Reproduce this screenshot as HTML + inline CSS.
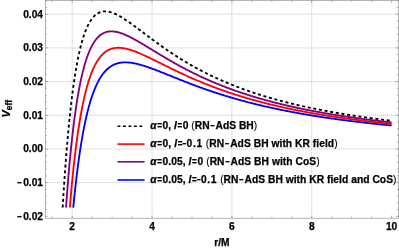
<!DOCTYPE html><html><head><meta charset="utf-8"><style>html,body{margin:0;padding:0;background:#fff}</style></head><body><svg width="399" height="249" viewBox="0 0 399 249" style="display:block">
<rect width="399" height="249" fill="#fff"/>
<g stroke="#9c9c9c" stroke-width="0.75" stroke-dasharray="0.85,1.15" fill="none"><line x1="72.20" y1="0.3" x2="72.20" y2="218.2"/><line x1="152.05" y1="0.3" x2="152.05" y2="218.2"/><line x1="231.90" y1="0.3" x2="231.90" y2="218.2"/><line x1="311.75" y1="0.3" x2="311.75" y2="218.2"/><line x1="45.3" y1="182.62" x2="398.45" y2="182.62"/><line x1="45.3" y1="148.93" x2="398.45" y2="148.93"/><line x1="45.3" y1="115.25" x2="398.45" y2="115.25"/><line x1="45.3" y1="81.57" x2="398.45" y2="81.57"/><line x1="45.3" y1="47.88" x2="398.45" y2="47.88"/><line x1="45.3" y1="14.20" x2="398.45" y2="14.20"/></g>
<path d="M62.67,207.54 L63.00,201.97 L63.57,192.94 L64.14,184.30 L64.70,176.03 L65.27,168.12 L65.83,160.56 L66.40,153.33 L66.97,146.41 L67.53,139.79 L68.10,133.46 L68.67,127.41 L69.23,121.62 L69.80,116.08 L70.37,110.78 L70.93,105.72 L71.50,100.87 L72.07,96.24 L72.63,91.81 L73.20,87.58 L73.77,83.53 L74.33,79.66 L74.90,75.97 L75.47,72.44 L76.03,69.07 L76.60,65.84 L77.17,62.77 L77.73,59.83 L78.30,57.03 L78.87,54.36 L79.43,51.80 L80.00,49.37 L80.56,47.05 L81.13,44.85 L81.70,42.74 L82.26,40.74 L82.83,38.83 L83.40,37.02 L83.96,35.29 L84.53,33.65 L85.10,32.10 L85.66,30.62 L86.23,29.22 L86.80,27.90 L87.36,26.64 L87.93,25.45 L88.50,24.33 L89.06,23.26 L89.63,22.26 L90.20,21.32 L90.76,20.43 L91.33,19.60 L91.90,18.82 L92.46,18.08 L93.03,17.40 L93.60,16.76 L94.16,16.16 L94.73,15.61 L95.30,15.10 L95.86,14.63 L96.43,14.19 L96.99,13.79 L97.56,13.43 L98.13,13.10 L98.69,12.80 L99.26,12.53 L99.83,12.30 L100.39,12.09 L100.96,11.91 L101.53,11.75 L102.09,11.62 L102.66,11.52 L103.23,11.44 L103.79,11.38 L104.36,11.35 L104.93,11.33 L105.49,11.34 L106.06,11.36 L106.63,11.41 L107.19,11.47 L107.76,11.55 L108.33,11.64 L108.89,11.75 L109.46,11.88 L110.03,12.02 L110.59,12.18 L111.16,12.34 L111.73,12.53 L112.29,12.72 L112.86,12.93 L113.42,13.14 L113.99,13.37 L114.56,13.61 L115.12,13.86 L115.69,14.12 L116.26,14.39 L116.82,14.66 L117.39,14.95 L117.96,15.24 L118.52,15.55 L119.09,15.85 L119.66,16.17 L120.22,16.49 L120.79,16.82 L121.36,17.16 L121.92,17.50 L122.49,17.85 L123.06,18.20 L123.62,18.56 L124.19,18.92 L124.76,19.29 L125.32,19.66 L125.89,20.03 L126.46,20.41 L127.02,20.79 L127.59,21.18 L128.15,21.57 L128.72,21.96 L129.29,22.36 L129.85,22.76 L130.42,23.16 L130.99,23.57 L131.55,23.97 L132.12,24.38 L132.69,24.79 L133.25,25.20 L133.82,25.62 L134.39,26.03 L134.95,26.45 L135.52,26.87 L136.09,27.29 L136.65,27.71 L137.22,28.13 L137.79,28.56 L138.35,28.98 L138.92,29.40 L139.49,29.83 L140.05,30.26 L140.62,30.68 L141.19,31.11 L141.75,31.53 L142.32,31.96 L142.89,32.39 L143.45,32.82 L144.02,33.24 L144.58,33.67 L145.15,34.10 L145.72,34.52 L146.28,34.95 L146.85,35.38 L147.42,35.80 L147.98,36.23 L148.55,36.65 L149.12,37.08 L149.68,37.50 L150.25,37.92 L150.82,38.34 L151.38,38.77 L151.95,39.19 L152.52,39.61 L153.08,40.03 L153.65,40.44 L154.22,40.86 L154.78,41.28 L155.35,41.69 L155.92,42.11 L156.48,42.52 L157.05,42.93 L157.62,43.34 L158.18,43.75 L158.75,44.16 L159.32,44.57 L159.88,44.97 L160.45,45.38 L161.01,45.78 L161.58,46.19 L162.15,46.59 L162.71,46.99 L163.28,47.38 L163.85,47.78 L164.41,48.18 L164.98,48.57 L165.55,48.96 L166.11,49.36 L166.68,49.75 L167.25,50.14 L167.81,50.52 L168.38,50.91 L168.95,51.29 L169.51,51.68 L170.08,52.06 L170.65,52.44 L171.21,52.82 L171.78,53.19 L172.35,53.57 L172.91,53.94 L173.48,54.31 L174.05,54.69 L174.61,55.05 L175.18,55.42 L175.75,55.79 L176.31,56.15 L176.88,56.52 L177.44,56.88 L178.01,57.24 L178.58,57.60 L179.14,57.95 L179.71,58.31 L180.28,58.66 L180.84,59.02 L181.41,59.37 L181.98,59.72 L182.54,60.06 L183.11,60.41 L183.68,60.75 L184.24,61.10 L184.81,61.44 L185.38,61.78 L185.94,62.12 L186.51,62.45 L187.08,62.79 L187.64,63.12 L188.21,63.45 L188.78,63.79 L189.34,64.11 L189.91,64.44 L190.48,64.77 L191.04,65.09 L191.61,65.42 L192.17,65.74 L192.74,66.06 L193.31,66.37 L193.87,66.69 L194.44,67.01 L195.01,67.32 L195.57,67.63 L196.14,67.94 L196.71,68.25 L197.27,68.56 L197.84,68.87 L198.41,69.17 L198.97,69.48 L199.54,69.78 L200.11,70.08 L200.67,70.38 L201.24,70.68 L201.81,70.97 L202.37,71.27 L202.94,71.56 L203.51,71.85 L204.07,72.14 L204.64,72.43 L205.21,72.72 L205.77,73.01 L206.34,73.29 L206.91,73.57 L207.47,73.86 L208.04,74.14 L208.60,74.42 L209.17,74.69 L209.74,74.97 L210.30,75.25 L210.87,75.52 L211.44,75.79 L212.00,76.06 L212.57,76.33 L213.14,76.60 L213.70,76.87 L214.27,77.13 L214.84,77.40 L215.40,77.66 L215.97,77.92 L216.54,78.19 L217.10,78.44 L217.67,78.70 L218.24,78.96 L218.80,79.21 L219.37,79.47 L219.94,79.72 L220.50,79.97 L221.07,80.22 L221.64,80.47 L222.20,80.72 L222.77,80.97 L223.34,81.21 L223.90,81.46 L224.47,81.70 L225.03,81.94 L225.60,82.19 L226.17,82.42 L226.73,82.66 L227.30,82.90 L227.87,83.14 L228.43,83.37 L229.00,83.61 L229.57,83.84 L230.13,84.07 L230.70,84.30 L231.27,84.53 L231.83,84.76 L232.40,84.98 L232.97,85.21 L233.53,85.44 L234.10,85.66 L234.67,85.88 L235.23,86.10 L235.80,86.32 L236.37,86.54 L236.93,86.76 L237.50,86.98 L238.07,87.19 L238.63,87.41 L239.20,87.62 L239.77,87.84 L240.33,88.05 L240.90,88.26 L241.46,88.47 L242.03,88.68 L242.60,88.89 L243.16,89.09 L243.73,89.30 L244.30,89.50 L244.86,89.71 L245.43,89.91 L246.00,90.11 L246.56,90.31 L247.13,90.51 L247.70,90.71 L248.26,90.91 L248.83,91.11 L249.40,91.30 L249.96,91.50 L250.53,91.69 L251.10,91.89 L251.66,92.08 L252.23,92.27 L252.80,92.46 L253.36,92.65 L253.93,92.84 L254.50,93.03 L255.06,93.21 L255.63,93.40 L256.19,93.58 L256.76,93.77 L257.33,93.95 L257.89,94.13 L258.46,94.32 L259.03,94.50 L259.59,94.68 L260.16,94.85 L260.73,95.03 L261.29,95.21 L261.86,95.39 L262.43,95.56 L262.99,95.74 L263.56,95.91 L264.13,96.08 L264.69,96.26 L265.26,96.43 L265.83,96.60 L266.39,96.77 L266.96,96.94 L267.53,97.11 L268.09,97.27 L268.66,97.44 L269.23,97.61 L269.79,97.77 L270.36,97.94 L270.93,98.10 L271.49,98.26 L272.06,98.43 L272.62,98.59 L273.19,98.75 L273.76,98.91 L274.32,99.07 L274.89,99.23 L275.46,99.38 L276.02,99.54 L276.59,99.70 L277.16,99.85 L277.72,100.01 L278.29,100.16 L278.86,100.31 L279.42,100.47 L279.99,100.62 L280.56,100.77 L281.12,100.92 L281.69,101.07 L282.26,101.22 L282.82,101.37 L283.39,101.52 L283.96,101.66 L284.52,101.81 L285.09,101.96 L285.66,102.10 L286.22,102.25 L286.79,102.39 L287.36,102.53 L287.92,102.68 L288.49,102.82 L289.05,102.96 L289.62,103.10 L290.19,103.24 L290.75,103.38 L291.32,103.52 L291.89,103.66 L292.45,103.79 L293.02,103.93 L293.59,104.07 L294.15,104.20 L294.72,104.34 L295.29,104.47 L295.85,104.61 L296.42,104.74 L296.99,104.87 L297.55,105.00 L298.12,105.14 L298.69,105.27 L299.25,105.40 L299.82,105.53 L300.39,105.66 L300.95,105.78 L301.52,105.91 L302.09,106.04 L302.65,106.17 L303.22,106.29 L303.78,106.42 L304.35,106.54 L304.92,106.67 L305.48,106.79 L306.05,106.92 L306.62,107.04 L307.18,107.16 L307.75,107.29 L308.32,107.41 L308.88,107.53 L309.45,107.65 L310.02,107.77 L310.58,107.89 L311.15,108.01 L311.72,108.13 L312.28,108.24 L312.85,108.36 L313.42,108.48 L313.98,108.59 L314.55,108.71 L315.12,108.83 L315.68,108.94 L316.25,109.05 L316.82,109.17 L317.38,109.28 L317.95,109.40 L318.52,109.51 L319.08,109.62 L319.65,109.73 L320.21,109.84 L320.78,109.95 L321.35,110.06 L321.91,110.17 L322.48,110.28 L323.05,110.39 L323.61,110.50 L324.18,110.61 L324.75,110.71 L325.31,110.82 L325.88,110.93 L326.45,111.03 L327.01,111.14 L327.58,111.24 L328.15,111.35 L328.71,111.45 L329.28,111.56 L329.85,111.66 L330.41,111.76 L330.98,111.87 L331.55,111.97 L332.11,112.07 L332.68,112.17 L333.25,112.27 L333.81,112.37 L334.38,112.47 L334.95,112.57 L335.51,112.67 L336.08,112.77 L336.64,112.87 L337.21,112.97 L337.78,113.06 L338.34,113.16 L338.91,113.26 L339.48,113.35 L340.04,113.45 L340.61,113.55 L341.18,113.64 L341.74,113.74 L342.31,113.83 L342.88,113.93 L343.44,114.02 L344.01,114.11 L344.58,114.21 L345.14,114.30 L345.71,114.39 L346.28,114.48 L346.84,114.57 L347.41,114.66 L347.98,114.76 L348.54,114.85 L349.11,114.94 L349.68,115.03 L350.24,115.11 L350.81,115.20 L351.38,115.29 L351.94,115.38 L352.51,115.47 L353.07,115.56 L353.64,115.64 L354.21,115.73 L354.77,115.82 L355.34,115.90 L355.91,115.99 L356.47,116.07 L357.04,116.16 L357.61,116.24 L358.17,116.33 L358.74,116.41 L359.31,116.50 L359.87,116.58 L360.44,116.66 L361.01,116.75 L361.57,116.83 L362.14,116.91 L362.71,116.99 L363.27,117.07 L363.84,117.16 L364.41,117.24 L364.97,117.32 L365.54,117.40 L366.11,117.48 L366.67,117.56 L367.24,117.64 L367.80,117.72 L368.37,117.79 L368.94,117.87 L369.50,117.95 L370.07,118.03 L370.64,118.11 L371.20,118.18 L371.77,118.26 L372.34,118.34 L372.90,118.41 L373.47,118.49 L374.04,118.57 L374.60,118.64 L375.17,118.72 L375.74,118.79 L376.30,118.87 L376.87,118.94 L377.44,119.01 L378.00,119.09 L378.57,119.16 L379.14,119.23 L379.70,119.31 L380.27,119.38 L380.84,119.45 L381.40,119.53 L381.97,119.60 L382.54,119.67 L383.10,119.74 L383.67,119.81 L384.23,119.88 L384.80,119.95 L385.37,120.02 L385.93,120.09 L386.50,120.16 L387.07,120.23 L387.63,120.30 L388.20,120.37 L388.77,120.44 L389.33,120.51 L389.90,120.58 L390.47,120.64 L391.03,120.71 L391.60,120.78" fill="none" stroke="#000" stroke-width="1.85" stroke-dasharray="3.05,2.67" stroke-linejoin="round"/>
<path d="M66.03,207.54 L66.40,202.29 L66.97,194.63 L67.53,187.28 L68.10,180.25 L68.67,173.50 L69.23,167.03 L69.80,160.83 L70.37,154.89 L70.93,149.19 L71.50,143.72 L72.07,138.49 L72.63,133.46 L73.20,128.65 L73.77,124.03 L74.33,119.61 L74.90,115.36 L75.47,111.30 L76.03,107.40 L76.60,103.67 L77.17,100.09 L77.73,96.66 L78.30,93.37 L78.87,90.22 L79.43,87.21 L80.00,84.32 L80.56,81.55 L81.13,78.90 L81.70,76.37 L82.26,73.94 L82.83,71.62 L83.40,69.40 L83.96,67.28 L84.53,65.25 L85.10,63.31 L85.66,61.45 L86.23,59.68 L86.80,57.99 L87.36,56.38 L87.93,54.84 L88.50,53.37 L89.06,51.97 L89.63,50.63 L90.20,49.36 L90.76,48.15 L91.33,47.00 L91.90,45.91 L92.46,44.87 L93.03,43.88 L93.60,42.95 L94.16,42.06 L94.73,41.22 L95.30,40.43 L95.86,39.68 L96.43,38.97 L96.99,38.31 L97.56,37.68 L98.13,37.09 L98.69,36.54 L99.26,36.02 L99.83,35.54 L100.39,35.08 L100.96,34.66 L101.53,34.27 L102.09,33.91 L102.66,33.58 L103.23,33.28 L103.79,33.00 L104.36,32.74 L104.93,32.51 L105.49,32.31 L106.06,32.12 L106.63,31.96 L107.19,31.82 L107.76,31.70 L108.33,31.60 L108.89,31.52 L109.46,31.45 L110.03,31.41 L110.59,31.38 L111.16,31.36 L111.73,31.36 L112.29,31.38 L112.86,31.41 L113.42,31.46 L113.99,31.52 L114.56,31.59 L115.12,31.67 L115.69,31.77 L116.26,31.87 L116.82,31.99 L117.39,32.12 L117.96,32.26 L118.52,32.41 L119.09,32.57 L119.66,32.73 L120.22,32.91 L120.79,33.10 L121.36,33.29 L121.92,33.49 L122.49,33.70 L123.06,33.91 L123.62,34.13 L124.19,34.36 L124.76,34.60 L125.32,34.84 L125.89,35.09 L126.46,35.34 L127.02,35.60 L127.59,35.86 L128.15,36.13 L128.72,36.40 L129.29,36.68 L129.85,36.96 L130.42,37.24 L130.99,37.53 L131.55,37.83 L132.12,38.12 L132.69,38.42 L133.25,38.73 L133.82,39.03 L134.39,39.34 L134.95,39.65 L135.52,39.97 L136.09,40.28 L136.65,40.60 L137.22,40.92 L137.79,41.25 L138.35,41.57 L138.92,41.90 L139.49,42.23 L140.05,42.56 L140.62,42.89 L141.19,43.23 L141.75,43.56 L142.32,43.90 L142.89,44.24 L143.45,44.57 L144.02,44.91 L144.58,45.25 L145.15,45.60 L145.72,45.94 L146.28,46.28 L146.85,46.62 L147.42,46.97 L147.98,47.31 L148.55,47.65 L149.12,48.00 L149.68,48.34 L150.25,48.69 L150.82,49.04 L151.38,49.38 L151.95,49.73 L152.52,50.07 L153.08,50.42 L153.65,50.76 L154.22,51.11 L154.78,51.45 L155.35,51.80 L155.92,52.14 L156.48,52.48 L157.05,52.83 L157.62,53.17 L158.18,53.51 L158.75,53.86 L159.32,54.20 L159.88,54.54 L160.45,54.88 L161.01,55.22 L161.58,55.56 L162.15,55.90 L162.71,56.24 L163.28,56.57 L163.85,56.91 L164.41,57.24 L164.98,57.58 L165.55,57.91 L166.11,58.25 L166.68,58.58 L167.25,58.91 L167.81,59.24 L168.38,59.57 L168.95,59.90 L169.51,60.23 L170.08,60.56 L170.65,60.88 L171.21,61.21 L171.78,61.53 L172.35,61.85 L172.91,62.18 L173.48,62.50 L174.05,62.82 L174.61,63.14 L175.18,63.45 L175.75,63.77 L176.31,64.09 L176.88,64.40 L177.44,64.71 L178.01,65.03 L178.58,65.34 L179.14,65.65 L179.71,65.96 L180.28,66.26 L180.84,66.57 L181.41,66.88 L181.98,67.18 L182.54,67.48 L183.11,67.79 L183.68,68.09 L184.24,68.39 L184.81,68.69 L185.38,68.98 L185.94,69.28 L186.51,69.57 L187.08,69.87 L187.64,70.16 L188.21,70.45 L188.78,70.74 L189.34,71.03 L189.91,71.32 L190.48,71.61 L191.04,71.89 L191.61,72.18 L192.17,72.46 L192.74,72.74 L193.31,73.02 L193.87,73.30 L194.44,73.58 L195.01,73.86 L195.57,74.13 L196.14,74.41 L196.71,74.68 L197.27,74.95 L197.84,75.23 L198.41,75.50 L198.97,75.76 L199.54,76.03 L200.11,76.30 L200.67,76.56 L201.24,76.83 L201.81,77.09 L202.37,77.35 L202.94,77.61 L203.51,77.87 L204.07,78.13 L204.64,78.39 L205.21,78.64 L205.77,78.90 L206.34,79.15 L206.91,79.41 L207.47,79.66 L208.04,79.91 L208.60,80.16 L209.17,80.40 L209.74,80.65 L210.30,80.90 L210.87,81.14 L211.44,81.38 L212.00,81.63 L212.57,81.87 L213.14,82.11 L213.70,82.35 L214.27,82.59 L214.84,82.82 L215.40,83.06 L215.97,83.29 L216.54,83.53 L217.10,83.76 L217.67,83.99 L218.24,84.22 L218.80,84.45 L219.37,84.68 L219.94,84.91 L220.50,85.13 L221.07,85.36 L221.64,85.58 L222.20,85.80 L222.77,86.03 L223.34,86.25 L223.90,86.47 L224.47,86.68 L225.03,86.90 L225.60,87.12 L226.17,87.34 L226.73,87.55 L227.30,87.76 L227.87,87.98 L228.43,88.19 L229.00,88.40 L229.57,88.61 L230.13,88.82 L230.70,89.03 L231.27,89.23 L231.83,89.44 L232.40,89.64 L232.97,89.85 L233.53,90.05 L234.10,90.25 L234.67,90.45 L235.23,90.65 L235.80,90.85 L236.37,91.05 L236.93,91.25 L237.50,91.45 L238.07,91.64 L238.63,91.84 L239.20,92.03 L239.77,92.22 L240.33,92.41 L240.90,92.60 L241.46,92.79 L242.03,92.98 L242.60,93.17 L243.16,93.36 L243.73,93.55 L244.30,93.73 L244.86,93.92 L245.43,94.10 L246.00,94.28 L246.56,94.47 L247.13,94.65 L247.70,94.83 L248.26,95.01 L248.83,95.19 L249.40,95.37 L249.96,95.54 L250.53,95.72 L251.10,95.90 L251.66,96.07 L252.23,96.24 L252.80,96.42 L253.36,96.59 L253.93,96.76 L254.50,96.93 L255.06,97.10 L255.63,97.27 L256.19,97.44 L256.76,97.61 L257.33,97.77 L257.89,97.94 L258.46,98.11 L259.03,98.27 L259.59,98.43 L260.16,98.60 L260.73,98.76 L261.29,98.92 L261.86,99.08 L262.43,99.24 L262.99,99.40 L263.56,99.56 L264.13,99.72 L264.69,99.88 L265.26,100.03 L265.83,100.19 L266.39,100.34 L266.96,100.50 L267.53,100.65 L268.09,100.80 L268.66,100.96 L269.23,101.11 L269.79,101.26 L270.36,101.41 L270.93,101.56 L271.49,101.71 L272.06,101.86 L272.62,102.00 L273.19,102.15 L273.76,102.30 L274.32,102.44 L274.89,102.59 L275.46,102.73 L276.02,102.88 L276.59,103.02 L277.16,103.16 L277.72,103.30 L278.29,103.44 L278.86,103.58 L279.42,103.72 L279.99,103.86 L280.56,104.00 L281.12,104.14 L281.69,104.28 L282.26,104.41 L282.82,104.55 L283.39,104.69 L283.96,104.82 L284.52,104.95 L285.09,105.09 L285.66,105.22 L286.22,105.35 L286.79,105.49 L287.36,105.62 L287.92,105.75 L288.49,105.88 L289.05,106.01 L289.62,106.14 L290.19,106.27 L290.75,106.39 L291.32,106.52 L291.89,106.65 L292.45,106.77 L293.02,106.90 L293.59,107.02 L294.15,107.15 L294.72,107.27 L295.29,107.40 L295.85,107.52 L296.42,107.64 L296.99,107.76 L297.55,107.89 L298.12,108.01 L298.69,108.13 L299.25,108.25 L299.82,108.37 L300.39,108.49 L300.95,108.60 L301.52,108.72 L302.09,108.84 L302.65,108.96 L303.22,109.07 L303.78,109.19 L304.35,109.30 L304.92,109.42 L305.48,109.53 L306.05,109.65 L306.62,109.76 L307.18,109.87 L307.75,109.98 L308.32,110.10 L308.88,110.21 L309.45,110.32 L310.02,110.43 L310.58,110.54 L311.15,110.65 L311.72,110.76 L312.28,110.87 L312.85,110.97 L313.42,111.08 L313.98,111.19 L314.55,111.30 L315.12,111.40 L315.68,111.51 L316.25,111.61 L316.82,111.72 L317.38,111.82 L317.95,111.93 L318.52,112.03 L319.08,112.13 L319.65,112.24 L320.21,112.34 L320.78,112.44 L321.35,112.54 L321.91,112.64 L322.48,112.75 L323.05,112.85 L323.61,112.95 L324.18,113.04 L324.75,113.14 L325.31,113.24 L325.88,113.34 L326.45,113.44 L327.01,113.54 L327.58,113.63 L328.15,113.73 L328.71,113.83 L329.28,113.92 L329.85,114.02 L330.41,114.11 L330.98,114.21 L331.55,114.30 L332.11,114.40 L332.68,114.49 L333.25,114.58 L333.81,114.68 L334.38,114.77 L334.95,114.86 L335.51,114.95 L336.08,115.04 L336.64,115.13 L337.21,115.22 L337.78,115.31 L338.34,115.40 L338.91,115.49 L339.48,115.58 L340.04,115.67 L340.61,115.76 L341.18,115.85 L341.74,115.94 L342.31,116.02 L342.88,116.11 L343.44,116.20 L344.01,116.28 L344.58,116.37 L345.14,116.45 L345.71,116.54 L346.28,116.62 L346.84,116.71 L347.41,116.79 L347.98,116.88 L348.54,116.96 L349.11,117.04 L349.68,117.13 L350.24,117.21 L350.81,117.29 L351.38,117.37 L351.94,117.46 L352.51,117.54 L353.07,117.62 L353.64,117.70 L354.21,117.78 L354.77,117.86 L355.34,117.94 L355.91,118.02 L356.47,118.10 L357.04,118.18 L357.61,118.26 L358.17,118.33 L358.74,118.41 L359.31,118.49 L359.87,118.57 L360.44,118.64 L361.01,118.72 L361.57,118.80 L362.14,118.87 L362.71,118.95 L363.27,119.03 L363.84,119.10 L364.41,119.18 L364.97,119.25 L365.54,119.32 L366.11,119.40 L366.67,119.47 L367.24,119.55 L367.80,119.62 L368.37,119.69 L368.94,119.77 L369.50,119.84 L370.07,119.91 L370.64,119.98 L371.20,120.05 L371.77,120.13 L372.34,120.20 L372.90,120.27 L373.47,120.34 L374.04,120.41 L374.60,120.48 L375.17,120.55 L375.74,120.62 L376.30,120.69 L376.87,120.76 L377.44,120.82 L378.00,120.89 L378.57,120.96 L379.14,121.03 L379.70,121.10 L380.27,121.16 L380.84,121.23 L381.40,121.30 L381.97,121.37 L382.54,121.43 L383.10,121.50 L383.67,121.56 L384.23,121.63 L384.80,121.70 L385.37,121.76 L385.93,121.83 L386.50,121.89 L387.07,121.96 L387.63,122.02 L388.20,122.08 L388.77,122.15 L389.33,122.21 L389.90,122.27 L390.47,122.34 L391.03,122.40 L391.60,122.46" fill="none" stroke="#800080" stroke-width="1.85" stroke-linejoin="round"/>
<path d="M73.28,207.54 L73.77,202.54 L74.33,196.92 L74.90,191.51 L75.47,186.30 L76.03,181.29 L76.60,176.47 L77.17,171.82 L77.73,167.35 L78.30,163.05 L78.87,158.90 L79.43,154.91 L80.00,151.07 L80.56,147.37 L81.13,143.81 L81.70,140.38 L82.26,137.08 L82.83,133.90 L83.40,130.84 L83.96,127.90 L84.53,125.06 L85.10,122.33 L85.66,119.71 L86.23,117.18 L86.80,114.74 L87.36,112.40 L87.93,110.14 L88.50,107.98 L89.06,105.89 L89.63,103.88 L90.20,101.95 L90.76,100.09 L91.33,98.30 L91.90,96.59 L92.46,94.93 L93.03,93.35 L93.60,91.82 L94.16,90.36 L94.73,88.95 L95.30,87.59 L95.86,86.30 L96.43,85.05 L96.99,83.85 L97.56,82.70 L98.13,81.60 L98.69,80.55 L99.26,79.53 L99.83,78.56 L100.39,77.63 L100.96,76.74 L101.53,75.89 L102.09,75.08 L102.66,74.30 L103.23,73.55 L103.79,72.84 L104.36,72.16 L104.93,71.52 L105.49,70.90 L106.06,70.31 L106.63,69.75 L107.19,69.22 L107.76,68.71 L108.33,68.23 L108.89,67.77 L109.46,67.34 L110.03,66.93 L110.59,66.54 L111.16,66.18 L111.73,65.83 L112.29,65.51 L112.86,65.20 L113.42,64.92 L113.99,64.65 L114.56,64.40 L115.12,64.17 L115.69,63.95 L116.26,63.75 L116.82,63.57 L117.39,63.40 L117.96,63.24 L118.52,63.10 L119.09,62.98 L119.66,62.86 L120.22,62.76 L120.79,62.67 L121.36,62.59 L121.92,62.53 L122.49,62.47 L123.06,62.43 L123.62,62.40 L124.19,62.37 L124.76,62.36 L125.32,62.35 L125.89,62.36 L126.46,62.37 L127.02,62.39 L127.59,62.43 L128.15,62.46 L128.72,62.51 L129.29,62.56 L129.85,62.62 L130.42,62.69 L130.99,62.77 L131.55,62.85 L132.12,62.93 L132.69,63.03 L133.25,63.12 L133.82,63.23 L134.39,63.34 L134.95,63.45 L135.52,63.57 L136.09,63.70 L136.65,63.83 L137.22,63.96 L137.79,64.10 L138.35,64.25 L138.92,64.39 L139.49,64.54 L140.05,64.70 L140.62,64.86 L141.19,65.02 L141.75,65.18 L142.32,65.35 L142.89,65.52 L143.45,65.70 L144.02,65.88 L144.58,66.06 L145.15,66.24 L145.72,66.42 L146.28,66.61 L146.85,66.80 L147.42,66.99 L147.98,67.19 L148.55,67.39 L149.12,67.58 L149.68,67.78 L150.25,67.99 L150.82,68.19 L151.38,68.40 L151.95,68.60 L152.52,68.81 L153.08,69.02 L153.65,69.23 L154.22,69.45 L154.78,69.66 L155.35,69.88 L155.92,70.09 L156.48,70.31 L157.05,70.53 L157.62,70.75 L158.18,70.97 L158.75,71.19 L159.32,71.41 L159.88,71.63 L160.45,71.86 L161.01,72.08 L161.58,72.30 L162.15,72.53 L162.71,72.75 L163.28,72.98 L163.85,73.21 L164.41,73.43 L164.98,73.66 L165.55,73.89 L166.11,74.11 L166.68,74.34 L167.25,74.57 L167.81,74.80 L168.38,75.03 L168.95,75.25 L169.51,75.48 L170.08,75.71 L170.65,75.94 L171.21,76.17 L171.78,76.39 L172.35,76.62 L172.91,76.85 L173.48,77.08 L174.05,77.31 L174.61,77.53 L175.18,77.76 L175.75,77.99 L176.31,78.21 L176.88,78.44 L177.44,78.67 L178.01,78.89 L178.58,79.12 L179.14,79.34 L179.71,79.57 L180.28,79.79 L180.84,80.02 L181.41,80.24 L181.98,80.47 L182.54,80.69 L183.11,80.91 L183.68,81.13 L184.24,81.36 L184.81,81.58 L185.38,81.80 L185.94,82.02 L186.51,82.24 L187.08,82.46 L187.64,82.68 L188.21,82.89 L188.78,83.11 L189.34,83.33 L189.91,83.55 L190.48,83.76 L191.04,83.98 L191.61,84.19 L192.17,84.41 L192.74,84.62 L193.31,84.83 L193.87,85.05 L194.44,85.26 L195.01,85.47 L195.57,85.68 L196.14,85.89 L196.71,86.10 L197.27,86.31 L197.84,86.52 L198.41,86.72 L198.97,86.93 L199.54,87.14 L200.11,87.34 L200.67,87.55 L201.24,87.75 L201.81,87.96 L202.37,88.16 L202.94,88.36 L203.51,88.56 L204.07,88.76 L204.64,88.96 L205.21,89.16 L205.77,89.36 L206.34,89.56 L206.91,89.76 L207.47,89.95 L208.04,90.15 L208.60,90.34 L209.17,90.54 L209.74,90.73 L210.30,90.92 L210.87,91.12 L211.44,91.31 L212.00,91.50 L212.57,91.69 L213.14,91.88 L213.70,92.07 L214.27,92.26 L214.84,92.44 L215.40,92.63 L215.97,92.82 L216.54,93.00 L217.10,93.19 L217.67,93.37 L218.24,93.55 L218.80,93.74 L219.37,93.92 L219.94,94.10 L220.50,94.28 L221.07,94.46 L221.64,94.64 L222.20,94.82 L222.77,94.99 L223.34,95.17 L223.90,95.35 L224.47,95.52 L225.03,95.70 L225.60,95.87 L226.17,96.04 L226.73,96.22 L227.30,96.39 L227.87,96.56 L228.43,96.73 L229.00,96.90 L229.57,97.07 L230.13,97.24 L230.70,97.40 L231.27,97.57 L231.83,97.74 L232.40,97.90 L232.97,98.07 L233.53,98.23 L234.10,98.40 L234.67,98.56 L235.23,98.72 L235.80,98.88 L236.37,99.05 L236.93,99.21 L237.50,99.37 L238.07,99.52 L238.63,99.68 L239.20,99.84 L239.77,100.00 L240.33,100.15 L240.90,100.31 L241.46,100.47 L242.03,100.62 L242.60,100.77 L243.16,100.93 L243.73,101.08 L244.30,101.23 L244.86,101.38 L245.43,101.53 L246.00,101.68 L246.56,101.83 L247.13,101.98 L247.70,102.13 L248.26,102.28 L248.83,102.42 L249.40,102.57 L249.96,102.72 L250.53,102.86 L251.10,103.01 L251.66,103.15 L252.23,103.29 L252.80,103.44 L253.36,103.58 L253.93,103.72 L254.50,103.86 L255.06,104.00 L255.63,104.14 L256.19,104.28 L256.76,104.42 L257.33,104.56 L257.89,104.69 L258.46,104.83 L259.03,104.97 L259.59,105.10 L260.16,105.24 L260.73,105.37 L261.29,105.51 L261.86,105.64 L262.43,105.77 L262.99,105.90 L263.56,106.04 L264.13,106.17 L264.69,106.30 L265.26,106.43 L265.83,106.56 L266.39,106.69 L266.96,106.81 L267.53,106.94 L268.09,107.07 L268.66,107.20 L269.23,107.32 L269.79,107.45 L270.36,107.57 L270.93,107.70 L271.49,107.82 L272.06,107.95 L272.62,108.07 L273.19,108.19 L273.76,108.31 L274.32,108.44 L274.89,108.56 L275.46,108.68 L276.02,108.80 L276.59,108.92 L277.16,109.04 L277.72,109.15 L278.29,109.27 L278.86,109.39 L279.42,109.51 L279.99,109.62 L280.56,109.74 L281.12,109.86 L281.69,109.97 L282.26,110.09 L282.82,110.20 L283.39,110.31 L283.96,110.43 L284.52,110.54 L285.09,110.65 L285.66,110.76 L286.22,110.88 L286.79,110.99 L287.36,111.10 L287.92,111.21 L288.49,111.32 L289.05,111.43 L289.62,111.53 L290.19,111.64 L290.75,111.75 L291.32,111.86 L291.89,111.96 L292.45,112.07 L293.02,112.18 L293.59,112.28 L294.15,112.39 L294.72,112.49 L295.29,112.60 L295.85,112.70 L296.42,112.80 L296.99,112.91 L297.55,113.01 L298.12,113.11 L298.69,113.21 L299.25,113.31 L299.82,113.41 L300.39,113.52 L300.95,113.62 L301.52,113.72 L302.09,113.81 L302.65,113.91 L303.22,114.01 L303.78,114.11 L304.35,114.21 L304.92,114.30 L305.48,114.40 L306.05,114.50 L306.62,114.59 L307.18,114.69 L307.75,114.79 L308.32,114.88 L308.88,114.97 L309.45,115.07 L310.02,115.16 L310.58,115.26 L311.15,115.35 L311.72,115.44 L312.28,115.53 L312.85,115.63 L313.42,115.72 L313.98,115.81 L314.55,115.90 L315.12,115.99 L315.68,116.08 L316.25,116.17 L316.82,116.26 L317.38,116.35 L317.95,116.44 L318.52,116.52 L319.08,116.61 L319.65,116.70 L320.21,116.79 L320.78,116.87 L321.35,116.96 L321.91,117.05 L322.48,117.13 L323.05,117.22 L323.61,117.30 L324.18,117.39 L324.75,117.47 L325.31,117.56 L325.88,117.64 L326.45,117.72 L327.01,117.81 L327.58,117.89 L328.15,117.97 L328.71,118.06 L329.28,118.14 L329.85,118.22 L330.41,118.30 L330.98,118.38 L331.55,118.46 L332.11,118.54 L332.68,118.62 L333.25,118.70 L333.81,118.78 L334.38,118.86 L334.95,118.94 L335.51,119.02 L336.08,119.10 L336.64,119.17 L337.21,119.25 L337.78,119.33 L338.34,119.41 L338.91,119.48 L339.48,119.56 L340.04,119.63 L340.61,119.71 L341.18,119.79 L341.74,119.86 L342.31,119.94 L342.88,120.01 L343.44,120.09 L344.01,120.16 L344.58,120.23 L345.14,120.31 L345.71,120.38 L346.28,120.45 L346.84,120.53 L347.41,120.60 L347.98,120.67 L348.54,120.74 L349.11,120.81 L349.68,120.88 L350.24,120.96 L350.81,121.03 L351.38,121.10 L351.94,121.17 L352.51,121.24 L353.07,121.31 L353.64,121.38 L354.21,121.44 L354.77,121.51 L355.34,121.58 L355.91,121.65 L356.47,121.72 L357.04,121.79 L357.61,121.85 L358.17,121.92 L358.74,121.99 L359.31,122.06 L359.87,122.12 L360.44,122.19 L361.01,122.26 L361.57,122.32 L362.14,122.39 L362.71,122.45 L363.27,122.52 L363.84,122.58 L364.41,122.65 L364.97,122.71 L365.54,122.78 L366.11,122.84 L366.67,122.90 L367.24,122.97 L367.80,123.03 L368.37,123.09 L368.94,123.16 L369.50,123.22 L370.07,123.28 L370.64,123.34 L371.20,123.40 L371.77,123.47 L372.34,123.53 L372.90,123.59 L373.47,123.65 L374.04,123.71 L374.60,123.77 L375.17,123.83 L375.74,123.89 L376.30,123.95 L376.87,124.01 L377.44,124.07 L378.00,124.13 L378.57,124.19 L379.14,124.25 L379.70,124.31 L380.27,124.36 L380.84,124.42 L381.40,124.48 L381.97,124.54 L382.54,124.60 L383.10,124.65 L383.67,124.71 L384.23,124.77 L384.80,124.82 L385.37,124.88 L385.93,124.94 L386.50,124.99 L387.07,125.05 L387.63,125.10 L388.20,125.16 L388.77,125.22 L389.33,125.27 L389.90,125.33 L390.47,125.38 L391.03,125.44 L391.60,125.49" fill="none" stroke="#0000ff" stroke-width="1.85" stroke-linejoin="round"/>
<path d="M69.83,207.54 L70.37,201.10 L70.93,194.60 L71.50,188.35 L72.07,182.35 L72.63,176.58 L73.20,171.04 L73.77,165.72 L74.33,160.61 L74.90,155.70 L75.47,150.98 L76.03,146.44 L76.60,142.08 L77.17,137.90 L77.73,133.87 L78.30,130.01 L78.87,126.30 L79.43,122.73 L80.00,119.30 L80.56,116.01 L81.13,112.85 L81.70,109.81 L82.26,106.90 L82.83,104.09 L83.40,101.40 L83.96,98.82 L84.53,96.34 L85.10,93.96 L85.66,91.68 L86.23,89.49 L86.80,87.38 L87.36,85.37 L87.93,83.43 L88.50,81.57 L89.06,79.80 L89.63,78.09 L90.20,76.46 L90.76,74.89 L91.33,73.39 L91.90,71.96 L92.46,70.58 L93.03,69.27 L93.60,68.01 L94.16,66.81 L94.73,65.66 L95.30,64.57 L95.86,63.52 L96.43,62.52 L96.99,61.56 L97.56,60.66 L98.13,59.79 L98.69,58.97 L99.26,58.18 L99.83,57.44 L100.39,56.73 L100.96,56.06 L101.53,55.42 L102.09,54.81 L102.66,54.24 L103.23,53.70 L103.79,53.19 L104.36,52.71 L104.93,52.26 L105.49,51.83 L106.06,51.44 L106.63,51.06 L107.19,50.71 L107.76,50.39 L108.33,50.08 L108.89,49.80 L109.46,49.55 L110.03,49.31 L110.59,49.09 L111.16,48.89 L111.73,48.71 L112.29,48.55 L112.86,48.40 L113.42,48.27 L113.99,48.16 L114.56,48.06 L115.12,47.98 L115.69,47.91 L116.26,47.86 L116.82,47.82 L117.39,47.79 L117.96,47.77 L118.52,47.77 L119.09,47.78 L119.66,47.80 L120.22,47.83 L120.79,47.88 L121.36,47.93 L121.92,47.99 L122.49,48.06 L123.06,48.14 L123.62,48.23 L124.19,48.33 L124.76,48.44 L125.32,48.55 L125.89,48.67 L126.46,48.80 L127.02,48.94 L127.59,49.08 L128.15,49.23 L128.72,49.39 L129.29,49.55 L129.85,49.72 L130.42,49.89 L130.99,50.07 L131.55,50.25 L132.12,50.44 L132.69,50.63 L133.25,50.83 L133.82,51.04 L134.39,51.24 L134.95,51.45 L135.52,51.67 L136.09,51.89 L136.65,52.11 L137.22,52.34 L137.79,52.56 L138.35,52.80 L138.92,53.03 L139.49,53.27 L140.05,53.51 L140.62,53.76 L141.19,54.00 L141.75,54.25 L142.32,54.50 L142.89,54.75 L143.45,55.01 L144.02,55.27 L144.58,55.53 L145.15,55.79 L145.72,56.05 L146.28,56.31 L146.85,56.58 L147.42,56.85 L147.98,57.11 L148.55,57.38 L149.12,57.65 L149.68,57.93 L150.25,58.20 L150.82,58.47 L151.38,58.75 L151.95,59.02 L152.52,59.30 L153.08,59.58 L153.65,59.85 L154.22,60.13 L154.78,60.41 L155.35,60.69 L155.92,60.97 L156.48,61.25 L157.05,61.53 L157.62,61.81 L158.18,62.09 L158.75,62.38 L159.32,62.66 L159.88,62.94 L160.45,63.22 L161.01,63.50 L161.58,63.78 L162.15,64.06 L162.71,64.35 L163.28,64.63 L163.85,64.91 L164.41,65.19 L164.98,65.47 L165.55,65.75 L166.11,66.03 L166.68,66.31 L167.25,66.59 L167.81,66.87 L168.38,67.15 L168.95,67.43 L169.51,67.71 L170.08,67.98 L170.65,68.26 L171.21,68.54 L171.78,68.81 L172.35,69.09 L172.91,69.36 L173.48,69.64 L174.05,69.91 L174.61,70.19 L175.18,70.46 L175.75,70.73 L176.31,71.00 L176.88,71.27 L177.44,71.54 L178.01,71.81 L178.58,72.08 L179.14,72.35 L179.71,72.62 L180.28,72.88 L180.84,73.15 L181.41,73.41 L181.98,73.68 L182.54,73.94 L183.11,74.21 L183.68,74.47 L184.24,74.73 L184.81,74.99 L185.38,75.25 L185.94,75.51 L186.51,75.76 L187.08,76.02 L187.64,76.28 L188.21,76.53 L188.78,76.79 L189.34,77.04 L189.91,77.29 L190.48,77.55 L191.04,77.80 L191.61,78.05 L192.17,78.30 L192.74,78.54 L193.31,78.79 L193.87,79.04 L194.44,79.28 L195.01,79.53 L195.57,79.77 L196.14,80.01 L196.71,80.26 L197.27,80.50 L197.84,80.74 L198.41,80.98 L198.97,81.21 L199.54,81.45 L200.11,81.69 L200.67,81.92 L201.24,82.16 L201.81,82.39 L202.37,82.63 L202.94,82.86 L203.51,83.09 L204.07,83.32 L204.64,83.55 L205.21,83.78 L205.77,84.00 L206.34,84.23 L206.91,84.45 L207.47,84.68 L208.04,84.90 L208.60,85.12 L209.17,85.35 L209.74,85.57 L210.30,85.79 L210.87,86.01 L211.44,86.22 L212.00,86.44 L212.57,86.66 L213.14,86.87 L213.70,87.09 L214.27,87.30 L214.84,87.51 L215.40,87.73 L215.97,87.94 L216.54,88.15 L217.10,88.35 L217.67,88.56 L218.24,88.77 L218.80,88.98 L219.37,89.18 L219.94,89.39 L220.50,89.59 L221.07,89.79 L221.64,89.99 L222.20,90.20 L222.77,90.40 L223.34,90.60 L223.90,90.79 L224.47,90.99 L225.03,91.19 L225.60,91.38 L226.17,91.58 L226.73,91.77 L227.30,91.97 L227.87,92.16 L228.43,92.35 L229.00,92.54 L229.57,92.73 L230.13,92.92 L230.70,93.11 L231.27,93.30 L231.83,93.48 L232.40,93.67 L232.97,93.85 L233.53,94.04 L234.10,94.22 L234.67,94.40 L235.23,94.59 L235.80,94.77 L236.37,94.95 L236.93,95.13 L237.50,95.30 L238.07,95.48 L238.63,95.66 L239.20,95.84 L239.77,96.01 L240.33,96.19 L240.90,96.36 L241.46,96.53 L242.03,96.71 L242.60,96.88 L243.16,97.05 L243.73,97.22 L244.30,97.39 L244.86,97.56 L245.43,97.72 L246.00,97.89 L246.56,98.06 L247.13,98.22 L247.70,98.39 L248.26,98.55 L248.83,98.71 L249.40,98.88 L249.96,99.04 L250.53,99.20 L251.10,99.36 L251.66,99.52 L252.23,99.68 L252.80,99.84 L253.36,100.00 L253.93,100.15 L254.50,100.31 L255.06,100.46 L255.63,100.62 L256.19,100.77 L256.76,100.93 L257.33,101.08 L257.89,101.23 L258.46,101.38 L259.03,101.53 L259.59,101.69 L260.16,101.83 L260.73,101.98 L261.29,102.13 L261.86,102.28 L262.43,102.43 L262.99,102.57 L263.56,102.72 L264.13,102.86 L264.69,103.01 L265.26,103.15 L265.83,103.29 L266.39,103.44 L266.96,103.58 L267.53,103.72 L268.09,103.86 L268.66,104.00 L269.23,104.14 L269.79,104.28 L270.36,104.42 L270.93,104.55 L271.49,104.69 L272.06,104.83 L272.62,104.96 L273.19,105.10 L273.76,105.23 L274.32,105.37 L274.89,105.50 L275.46,105.63 L276.02,105.76 L276.59,105.90 L277.16,106.03 L277.72,106.16 L278.29,106.29 L278.86,106.42 L279.42,106.55 L279.99,106.67 L280.56,106.80 L281.12,106.93 L281.69,107.06 L282.26,107.18 L282.82,107.31 L283.39,107.43 L283.96,107.56 L284.52,107.68 L285.09,107.80 L285.66,107.93 L286.22,108.05 L286.79,108.17 L287.36,108.29 L287.92,108.41 L288.49,108.53 L289.05,108.65 L289.62,108.77 L290.19,108.89 L290.75,109.01 L291.32,109.13 L291.89,109.24 L292.45,109.36 L293.02,109.48 L293.59,109.59 L294.15,109.71 L294.72,109.82 L295.29,109.94 L295.85,110.05 L296.42,110.16 L296.99,110.28 L297.55,110.39 L298.12,110.50 L298.69,110.61 L299.25,110.72 L299.82,110.83 L300.39,110.94 L300.95,111.05 L301.52,111.16 L302.09,111.27 L302.65,111.38 L303.22,111.49 L303.78,111.59 L304.35,111.70 L304.92,111.81 L305.48,111.91 L306.05,112.02 L306.62,112.12 L307.18,112.23 L307.75,112.33 L308.32,112.44 L308.88,112.54 L309.45,112.64 L310.02,112.74 L310.58,112.85 L311.15,112.95 L311.72,113.05 L312.28,113.15 L312.85,113.25 L313.42,113.35 L313.98,113.45 L314.55,113.55 L315.12,113.65 L315.68,113.75 L316.25,113.84 L316.82,113.94 L317.38,114.04 L317.95,114.13 L318.52,114.23 L319.08,114.33 L319.65,114.42 L320.21,114.52 L320.78,114.61 L321.35,114.71 L321.91,114.80 L322.48,114.89 L323.05,114.99 L323.61,115.08 L324.18,115.17 L324.75,115.26 L325.31,115.36 L325.88,115.45 L326.45,115.54 L327.01,115.63 L327.58,115.72 L328.15,115.81 L328.71,115.90 L329.28,115.99 L329.85,116.08 L330.41,116.16 L330.98,116.25 L331.55,116.34 L332.11,116.43 L332.68,116.52 L333.25,116.60 L333.81,116.69 L334.38,116.77 L334.95,116.86 L335.51,116.95 L336.08,117.03 L336.64,117.11 L337.21,117.20 L337.78,117.28 L338.34,117.37 L338.91,117.45 L339.48,117.53 L340.04,117.62 L340.61,117.70 L341.18,117.78 L341.74,117.86 L342.31,117.94 L342.88,118.02 L343.44,118.11 L344.01,118.19 L344.58,118.27 L345.14,118.35 L345.71,118.42 L346.28,118.50 L346.84,118.58 L347.41,118.66 L347.98,118.74 L348.54,118.82 L349.11,118.90 L349.68,118.97 L350.24,119.05 L350.81,119.13 L351.38,119.20 L351.94,119.28 L352.51,119.36 L353.07,119.43 L353.64,119.51 L354.21,119.58 L354.77,119.66 L355.34,119.73 L355.91,119.80 L356.47,119.88 L357.04,119.95 L357.61,120.03 L358.17,120.10 L358.74,120.17 L359.31,120.24 L359.87,120.32 L360.44,120.39 L361.01,120.46 L361.57,120.53 L362.14,120.60 L362.71,120.67 L363.27,120.74 L363.84,120.81 L364.41,120.88 L364.97,120.95 L365.54,121.02 L366.11,121.09 L366.67,121.16 L367.24,121.23 L367.80,121.30 L368.37,121.37 L368.94,121.43 L369.50,121.50 L370.07,121.57 L370.64,121.64 L371.20,121.70 L371.77,121.77 L372.34,121.84 L372.90,121.90 L373.47,121.97 L374.04,122.04 L374.60,122.10 L375.17,122.17 L375.74,122.23 L376.30,122.30 L376.87,122.36 L377.44,122.42 L378.00,122.49 L378.57,122.55 L379.14,122.62 L379.70,122.68 L380.27,122.74 L380.84,122.81 L381.40,122.87 L381.97,122.93 L382.54,122.99 L383.10,123.05 L383.67,123.12 L384.23,123.18 L384.80,123.24 L385.37,123.30 L385.93,123.36 L386.50,123.42 L387.07,123.48 L387.63,123.54 L388.20,123.60 L388.77,123.66 L389.33,123.72 L389.90,123.78 L390.47,123.84 L391.03,123.90 L391.60,123.96" fill="none" stroke="#ff0000" stroke-width="1.85" stroke-linejoin="round"/>
<rect x="45.3" y="0.3" width="353.15" height="217.89999999999998" fill="none" stroke="#858585" stroke-width="0.62"/>
<g stroke="#808080" stroke-width="0.6"><line x1="52.24" y1="218.2" x2="52.24" y2="216.6"/><line x1="52.24" y1="0.3" x2="52.24" y2="1.9000000000000001"/><line x1="72.20" y1="218.2" x2="72.20" y2="215.6"/><line x1="72.20" y1="0.3" x2="72.20" y2="2.9"/><line x1="92.16" y1="218.2" x2="92.16" y2="216.6"/><line x1="92.16" y1="0.3" x2="92.16" y2="1.9000000000000001"/><line x1="112.12" y1="218.2" x2="112.12" y2="216.6"/><line x1="112.12" y1="0.3" x2="112.12" y2="1.9000000000000001"/><line x1="132.09" y1="218.2" x2="132.09" y2="216.6"/><line x1="132.09" y1="0.3" x2="132.09" y2="1.9000000000000001"/><line x1="152.05" y1="218.2" x2="152.05" y2="215.6"/><line x1="152.05" y1="0.3" x2="152.05" y2="2.9"/><line x1="172.01" y1="218.2" x2="172.01" y2="216.6"/><line x1="172.01" y1="0.3" x2="172.01" y2="1.9000000000000001"/><line x1="191.98" y1="218.2" x2="191.98" y2="216.6"/><line x1="191.98" y1="0.3" x2="191.98" y2="1.9000000000000001"/><line x1="211.94" y1="218.2" x2="211.94" y2="216.6"/><line x1="211.94" y1="0.3" x2="211.94" y2="1.9000000000000001"/><line x1="231.90" y1="218.2" x2="231.90" y2="215.6"/><line x1="231.90" y1="0.3" x2="231.90" y2="2.9"/><line x1="251.86" y1="218.2" x2="251.86" y2="216.6"/><line x1="251.86" y1="0.3" x2="251.86" y2="1.9000000000000001"/><line x1="271.83" y1="218.2" x2="271.83" y2="216.6"/><line x1="271.83" y1="0.3" x2="271.83" y2="1.9000000000000001"/><line x1="291.79" y1="218.2" x2="291.79" y2="216.6"/><line x1="291.79" y1="0.3" x2="291.79" y2="1.9000000000000001"/><line x1="311.75" y1="218.2" x2="311.75" y2="215.6"/><line x1="311.75" y1="0.3" x2="311.75" y2="2.9"/><line x1="331.71" y1="218.2" x2="331.71" y2="216.6"/><line x1="331.71" y1="0.3" x2="331.71" y2="1.9000000000000001"/><line x1="351.68" y1="218.2" x2="351.68" y2="216.6"/><line x1="351.68" y1="0.3" x2="351.68" y2="1.9000000000000001"/><line x1="371.64" y1="218.2" x2="371.64" y2="216.6"/><line x1="371.64" y1="0.3" x2="371.64" y2="1.9000000000000001"/><line x1="391.60" y1="218.2" x2="391.60" y2="215.6"/><line x1="391.60" y1="0.3" x2="391.60" y2="2.9"/><line x1="45.3" y1="216.30" x2="47.9" y2="216.30"/><line x1="398.45" y1="216.30" x2="395.84999999999997" y2="216.30"/><line x1="45.3" y1="209.56" x2="46.9" y2="209.56"/><line x1="398.45" y1="209.56" x2="396.84999999999997" y2="209.56"/><line x1="45.3" y1="202.83" x2="46.9" y2="202.83"/><line x1="398.45" y1="202.83" x2="396.84999999999997" y2="202.83"/><line x1="45.3" y1="196.09" x2="46.9" y2="196.09"/><line x1="398.45" y1="196.09" x2="396.84999999999997" y2="196.09"/><line x1="45.3" y1="189.35" x2="46.9" y2="189.35"/><line x1="398.45" y1="189.35" x2="396.84999999999997" y2="189.35"/><line x1="45.3" y1="182.62" x2="47.9" y2="182.62"/><line x1="398.45" y1="182.62" x2="395.84999999999997" y2="182.62"/><line x1="45.3" y1="175.88" x2="46.9" y2="175.88"/><line x1="398.45" y1="175.88" x2="396.84999999999997" y2="175.88"/><line x1="45.3" y1="169.14" x2="46.9" y2="169.14"/><line x1="398.45" y1="169.14" x2="396.84999999999997" y2="169.14"/><line x1="45.3" y1="162.41" x2="46.9" y2="162.41"/><line x1="398.45" y1="162.41" x2="396.84999999999997" y2="162.41"/><line x1="45.3" y1="155.67" x2="46.9" y2="155.67"/><line x1="398.45" y1="155.67" x2="396.84999999999997" y2="155.67"/><line x1="45.3" y1="148.93" x2="47.9" y2="148.93"/><line x1="398.45" y1="148.93" x2="395.84999999999997" y2="148.93"/><line x1="45.3" y1="142.20" x2="46.9" y2="142.20"/><line x1="398.45" y1="142.20" x2="396.84999999999997" y2="142.20"/><line x1="45.3" y1="135.46" x2="46.9" y2="135.46"/><line x1="398.45" y1="135.46" x2="396.84999999999997" y2="135.46"/><line x1="45.3" y1="128.72" x2="46.9" y2="128.72"/><line x1="398.45" y1="128.72" x2="396.84999999999997" y2="128.72"/><line x1="45.3" y1="121.99" x2="46.9" y2="121.99"/><line x1="398.45" y1="121.99" x2="396.84999999999997" y2="121.99"/><line x1="45.3" y1="115.25" x2="47.9" y2="115.25"/><line x1="398.45" y1="115.25" x2="395.84999999999997" y2="115.25"/><line x1="45.3" y1="108.51" x2="46.9" y2="108.51"/><line x1="398.45" y1="108.51" x2="396.84999999999997" y2="108.51"/><line x1="45.3" y1="101.78" x2="46.9" y2="101.78"/><line x1="398.45" y1="101.78" x2="396.84999999999997" y2="101.78"/><line x1="45.3" y1="95.04" x2="46.9" y2="95.04"/><line x1="398.45" y1="95.04" x2="396.84999999999997" y2="95.04"/><line x1="45.3" y1="88.30" x2="46.9" y2="88.30"/><line x1="398.45" y1="88.30" x2="396.84999999999997" y2="88.30"/><line x1="45.3" y1="81.57" x2="47.9" y2="81.57"/><line x1="398.45" y1="81.57" x2="395.84999999999997" y2="81.57"/><line x1="45.3" y1="74.83" x2="46.9" y2="74.83"/><line x1="398.45" y1="74.83" x2="396.84999999999997" y2="74.83"/><line x1="45.3" y1="68.09" x2="46.9" y2="68.09"/><line x1="398.45" y1="68.09" x2="396.84999999999997" y2="68.09"/><line x1="45.3" y1="61.36" x2="46.9" y2="61.36"/><line x1="398.45" y1="61.36" x2="396.84999999999997" y2="61.36"/><line x1="45.3" y1="54.62" x2="46.9" y2="54.62"/><line x1="398.45" y1="54.62" x2="396.84999999999997" y2="54.62"/><line x1="45.3" y1="47.88" x2="47.9" y2="47.88"/><line x1="398.45" y1="47.88" x2="395.84999999999997" y2="47.88"/><line x1="45.3" y1="41.15" x2="46.9" y2="41.15"/><line x1="398.45" y1="41.15" x2="396.84999999999997" y2="41.15"/><line x1="45.3" y1="34.41" x2="46.9" y2="34.41"/><line x1="398.45" y1="34.41" x2="396.84999999999997" y2="34.41"/><line x1="45.3" y1="27.67" x2="46.9" y2="27.67"/><line x1="398.45" y1="27.67" x2="396.84999999999997" y2="27.67"/><line x1="45.3" y1="20.94" x2="46.9" y2="20.94"/><line x1="398.45" y1="20.94" x2="396.84999999999997" y2="20.94"/><line x1="45.3" y1="14.20" x2="47.9" y2="14.20"/><line x1="398.45" y1="14.20" x2="395.84999999999997" y2="14.20"/><line x1="45.3" y1="7.46" x2="46.9" y2="7.46"/><line x1="398.45" y1="7.46" x2="396.84999999999997" y2="7.46"/><line x1="45.3" y1="0.73" x2="46.9" y2="0.73"/><line x1="398.45" y1="0.73" x2="396.84999999999997" y2="0.73"/></g>
<g font-family="Liberation Sans, Arial, sans-serif" font-weight="bold" stroke="#000" stroke-width="0.25" font-size="10.2" fill="#000"><text x="72.20" y="229.9" text-anchor="middle">2</text><text x="152.05" y="229.9" text-anchor="middle">4</text><text x="231.90" y="229.9" text-anchor="middle">6</text><text x="311.75" y="229.9" text-anchor="middle">8</text><text x="391.60" y="229.9" text-anchor="middle">10</text><text x="43.0" y="219.80" text-anchor="end"><tspan textLength="4.77" lengthAdjust="spacingAndGlyphs">−</tspan><tspan dx="1.07">0.02</tspan></text><text x="43.0" y="186.12" text-anchor="end"><tspan textLength="4.77" lengthAdjust="spacingAndGlyphs">−</tspan><tspan dx="1.07">0.01</tspan></text><text x="43.0" y="152.43" text-anchor="end"><tspan>0.00</tspan></text><text x="43.0" y="118.75" text-anchor="end"><tspan>0.01</tspan></text><text x="43.0" y="85.07" text-anchor="end"><tspan>0.02</tspan></text><text x="43.0" y="51.38" text-anchor="end"><tspan>0.03</tspan></text><text x="43.0" y="17.70" text-anchor="end"><tspan>0.04</tspan></text></g>
<text x="221.9" y="245.9" text-anchor="middle" font-family="Liberation Sans, Arial, sans-serif" font-weight="bold" stroke="#000" stroke-width="0.25" font-size="10.2">r/M</text>
<text transform="translate(9.6,117.4) rotate(-90)" font-family="Liberation Sans, Arial, sans-serif" font-weight="bold" stroke="#000" stroke-width="0.25" font-size="10.8"><tspan font-style="italic">V</tspan><tspan font-size="8.3" dy="2">eff</tspan></text>
<line x1="117.5" y1="126.3" x2="144.6" y2="126.3" stroke="#000" stroke-width="1.6" stroke-dasharray="2.9,2.58"/>
<text class="lg" x="150.2" y="129.40" font-family="Liberation Sans, Arial, sans-serif" font-weight="bold" stroke="#000" stroke-width="0.25" font-size="10.25" letter-spacing="0.0024"><tspan font-style="italic">α</tspan><tspan dx="0.60" textLength="4.79" lengthAdjust="spacingAndGlyphs">=</tspan><tspan dx="0.60">0, </tspan><tspan font-style="italic">l</tspan><tspan dx="0.60" textLength="4.79" lengthAdjust="spacingAndGlyphs">=</tspan><tspan dx="0.60">0 </tspan><tspan font-weight="normal" stroke-width="0.1">(</tspan><tspan>RN</tspan><tspan dx="0.82" textLength="4.34" lengthAdjust="spacingAndGlyphs">−</tspan><tspan dx="0.82">AdS BH</tspan><tspan font-weight="normal" stroke-width="0.1">)</tspan></text>
<line x1="117.5" y1="144.1" x2="144.6" y2="144.1" stroke="#ff0000" stroke-width="1.6"/>
<text class="lg" x="150.2" y="147.20" font-family="Liberation Sans, Arial, sans-serif" font-weight="bold" stroke="#000" stroke-width="0.25" font-size="10.25" letter-spacing="0.0450"><tspan font-style="italic">α</tspan><tspan dx="0.60" textLength="4.79" lengthAdjust="spacingAndGlyphs">=</tspan><tspan dx="0.60">0, </tspan><tspan font-style="italic">l</tspan><tspan dx="0.60" textLength="4.79" lengthAdjust="spacingAndGlyphs">=</tspan><tspan dx="0.15" textLength="3.89" lengthAdjust="spacingAndGlyphs">−</tspan><tspan dx="0.08" letter-spacing="0.7">0.1</tspan><tspan> </tspan><tspan font-weight="normal" stroke-width="0.1">(</tspan><tspan>RN</tspan><tspan dx="0.82" textLength="4.34" lengthAdjust="spacingAndGlyphs">−</tspan><tspan dx="0.82">AdS BH with KR field</tspan><tspan font-weight="normal" stroke-width="0.1">)</tspan></text>
<line x1="117.5" y1="161.8" x2="144.6" y2="161.8" stroke="#800080" stroke-width="1.6"/>
<text class="lg" x="150.2" y="165.10" font-family="Liberation Sans, Arial, sans-serif" font-weight="bold" stroke="#000" stroke-width="0.25" font-size="10.25" letter-spacing="0.0557"><tspan font-style="italic">α</tspan><tspan dx="0.60" textLength="4.79" lengthAdjust="spacingAndGlyphs">=</tspan><tspan dx="0.60">0.05, </tspan><tspan font-style="italic">l</tspan><tspan dx="0.60" textLength="4.79" lengthAdjust="spacingAndGlyphs">=</tspan><tspan dx="0.60">0 </tspan><tspan font-weight="normal" stroke-width="0.1">(</tspan><tspan>RN</tspan><tspan dx="0.82" textLength="4.34" lengthAdjust="spacingAndGlyphs">−</tspan><tspan dx="0.82">AdS BH with CoS</tspan><tspan font-weight="normal" stroke-width="0.1">)</tspan></text>
<line x1="117.5" y1="180.0" x2="144.6" y2="180.0" stroke="#0000ff" stroke-width="1.6"/>
<text class="lg" x="150.2" y="183.00" font-family="Liberation Sans, Arial, sans-serif" font-weight="bold" stroke="#000" stroke-width="0.25" font-size="10.25" letter-spacing="0.0387"><tspan font-style="italic">α</tspan><tspan dx="0.60" textLength="4.79" lengthAdjust="spacingAndGlyphs">=</tspan><tspan dx="0.60">0.05, </tspan><tspan font-style="italic">l</tspan><tspan dx="0.60" textLength="4.79" lengthAdjust="spacingAndGlyphs">=</tspan><tspan dx="0.15" textLength="3.89" lengthAdjust="spacingAndGlyphs">−</tspan><tspan dx="0.08" letter-spacing="0.7">0.1</tspan><tspan> </tspan><tspan font-weight="normal" stroke-width="0.1">(</tspan><tspan>RN</tspan><tspan dx="0.82" textLength="4.34" lengthAdjust="spacingAndGlyphs">−</tspan><tspan dx="0.82">AdS BH with KR field and CoS</tspan><tspan font-weight="normal" stroke-width="0.1">)</tspan></text>
</svg></body></html>
